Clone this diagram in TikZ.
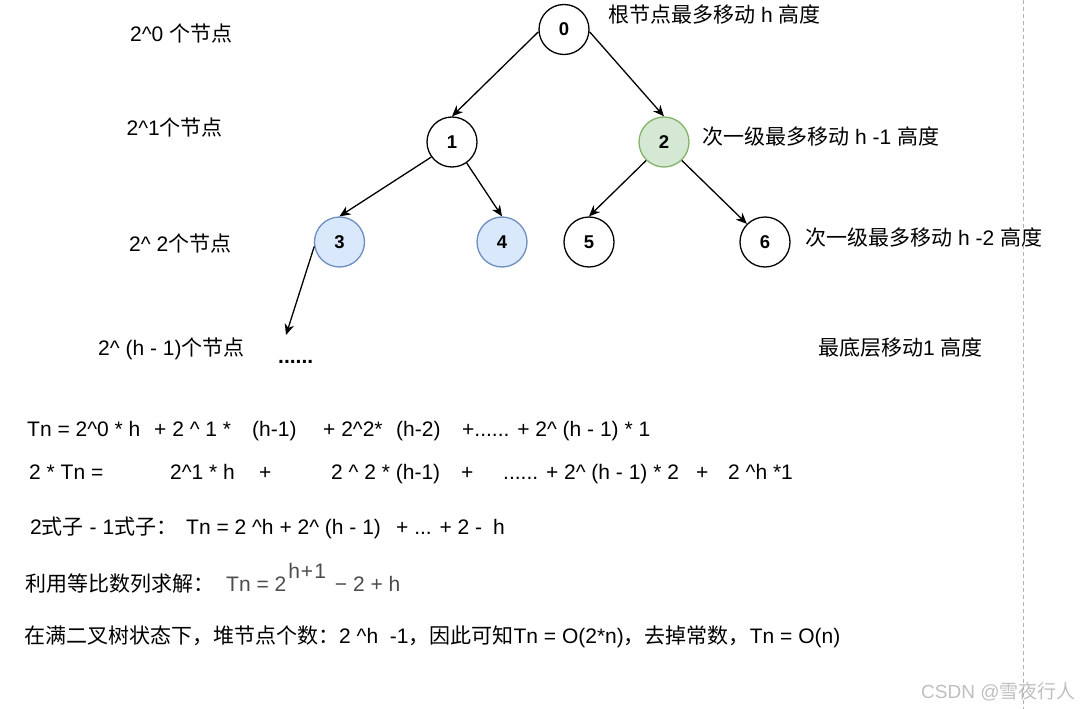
\documentclass[tikz,border=0pt]{standalone}
\usepackage{fontspec}
\setmainfont{Liberation Sans}
\newfontfamily\cjk{Noto Sans CJK SC}
\newcommand{\zh}[1]{{\cjk #1}}
\usetikzlibrary{arrows.meta}
\definecolor{blueFill}{HTML}{DAE8FC}
\definecolor{blueDraw}{HTML}{6C8EBF}
\definecolor{greenFill}{HTML}{D5E8D4}
\definecolor{greenDraw}{HTML}{82B366}
\begin{document}
\begin{tikzpicture}[x=1pt, y=-1pt,
  heapnode/.style={circle, draw=black, line width=1.3pt, minimum size=50pt, inner sep=0pt, font=\fontsize{18.5}{20}\selectfont\bfseries},
  bluenode/.style={heapnode, draw=blueDraw, fill=blueFill},
  greennode/.style={heapnode, draw=greenDraw, fill=greenFill},
  note/.style={anchor=west, inner sep=0pt, font=\fontsize{21}{25}\selectfont},
  formula/.style={anchor=base west, inner sep=0pt, font=\fontsize{21}{25}\selectfont},
  link/.style={draw, line width=1.3pt, -{Stealth[length=11pt, width=9.5pt, inset=3.5pt]}},
]
\useasboundingbox (0,0) rectangle (1084,709);

% heap nodes
\node[heapnode] (n0) at (564,29.5) {0};
\node[heapnode] (n1) at (452,142) {1};
\node[greennode] (n2) at (664,142) {2};
\node[bluenode] (n3) at (339.5,242) {3};
\node[bluenode] (n4) at (502,242) {4};
\node[heapnode] (n5) at (589,242) {5};
\node[heapnode] (n6) at (765,242) {6};
\coordinate (tail) at (286,335);

\draw[link] (n0.185) -- (n1.north);
\draw[link] (n0.-5) -- (n2.north);
\draw[link] (n1.216) -- (n3.north);
\draw[link] (n1.-55) -- (n4.north);
\draw[link] (n2.226) -- (n5.north);
\draw[link] (n2.-46) -- (n6.135);
\draw[link] (n3.190) -- (tail);

% level counts
\node[note] (c0) at (130,33) {2\^{}0 \zh{个节点}};
\node[note] (c1) at (126.5,127) {2\^{}1\zh{个节点}};
\node[note] (c2) at (129,243) {2\^{} 2\zh{个节点}};
\node[note] (c3) at (98,349) {2\^{} (h - 1)\zh{个节点}};
\node[formula, font=\fontsize{21}{25}\selectfont\bfseries] (dots) at (278,363) {......};

% move heights
\node[note] (m0) at (608,15) {\zh{根节点最多移动} h \zh{高度}};
\node[note] (m1) at (702,137) {\zh{次一级最多移动} h -1 \zh{高度}};
\node[note] (m2) at (805,238) {\zh{次一级最多移动} h -2 \zh{高度}};
\node[note] (m3) at (818,348) {\zh{最底层移动}1 \zh{高度}};

% sums
\node[formula] (s1a) at (27,436.5) {Tn = 2\^{}0 * h};
\node[formula] (s1b) at (154,436.5) {+ 2 \^{} 1 *};
\node[formula] (s1c) at (252,436.5) {(h-1)};
\node[formula] (s1d) at (323,436.5) {+ 2\^{}2*};
\node[formula] (s1e) at (396,436.5) {(h-2)};
\node[formula] (s1f) at (462,436.5) {+...... + 2\^{} (h - 1) * 1};

\node[formula] (s2a) at (29,479.5) {2 * Tn =};
\node[formula] (s2b) at (170,479.5) {2\^{}1 * h};
\node[formula] (s2c) at (259,479.5) {+};
\node[formula] (s2d) at (331,479.5) {2 \^{} 2 * (h-1)};
\node[formula] (s2e) at (461,479.5) {+};
\node[formula] (s2f) at (503,479.5) {...... + 2\^{} (h - 1) * 2};
\node[formula] (s2g) at (696,479.5) {+};
\node[formula] (s2h) at (728,479.5) {2 \^{}h *1};

\node[formula] (s3a) at (30,534.5) {2\zh{式子} - 1\zh{式子：}};
\node[formula] (s3b) at (186,534.5) {Tn = 2 \^{}h + 2\^{} (h - 1)};
\node[formula] (s3c) at (396,534.5) {+ ... + 2 -};
\node[formula] (s3d) at (493,534.5) {h};

\node[formula] (s4a) at (25,591.5) {\zh{利用等比数列求解：}};
\node[formula, text=black!70] (s4b) at (226,591.5) {Tn = 2\hspace{2pt}\raisebox{13.5pt}{h\hspace{1pt}+\hspace{1pt}1}\hspace{9pt}− 2 + h};

\node[formula] (s5) at (24,643.5) {\zh{在满二叉树状态下，堆节点个数：}2 \^{}h\ \ -1\zh{，因此可知}Tn = O(2*n)\zh{，去掉常数，}Tn = O(n)};

% page edge and watermark
\coordinate (edgeTop) at (1023,0);
\coordinate (edgeBot) at (1023,709);
\draw[black!30, line width=0.8pt, dash pattern=on 4pt off 3pt] (edgeTop) -- (edgeBot);
\node[note, text=black!25, font=\fontsize{19}{22}\selectfont] (mark) at (921,692) {CSDN @\zh{雪夜行人}};
\end{tikzpicture}
\end{document}
